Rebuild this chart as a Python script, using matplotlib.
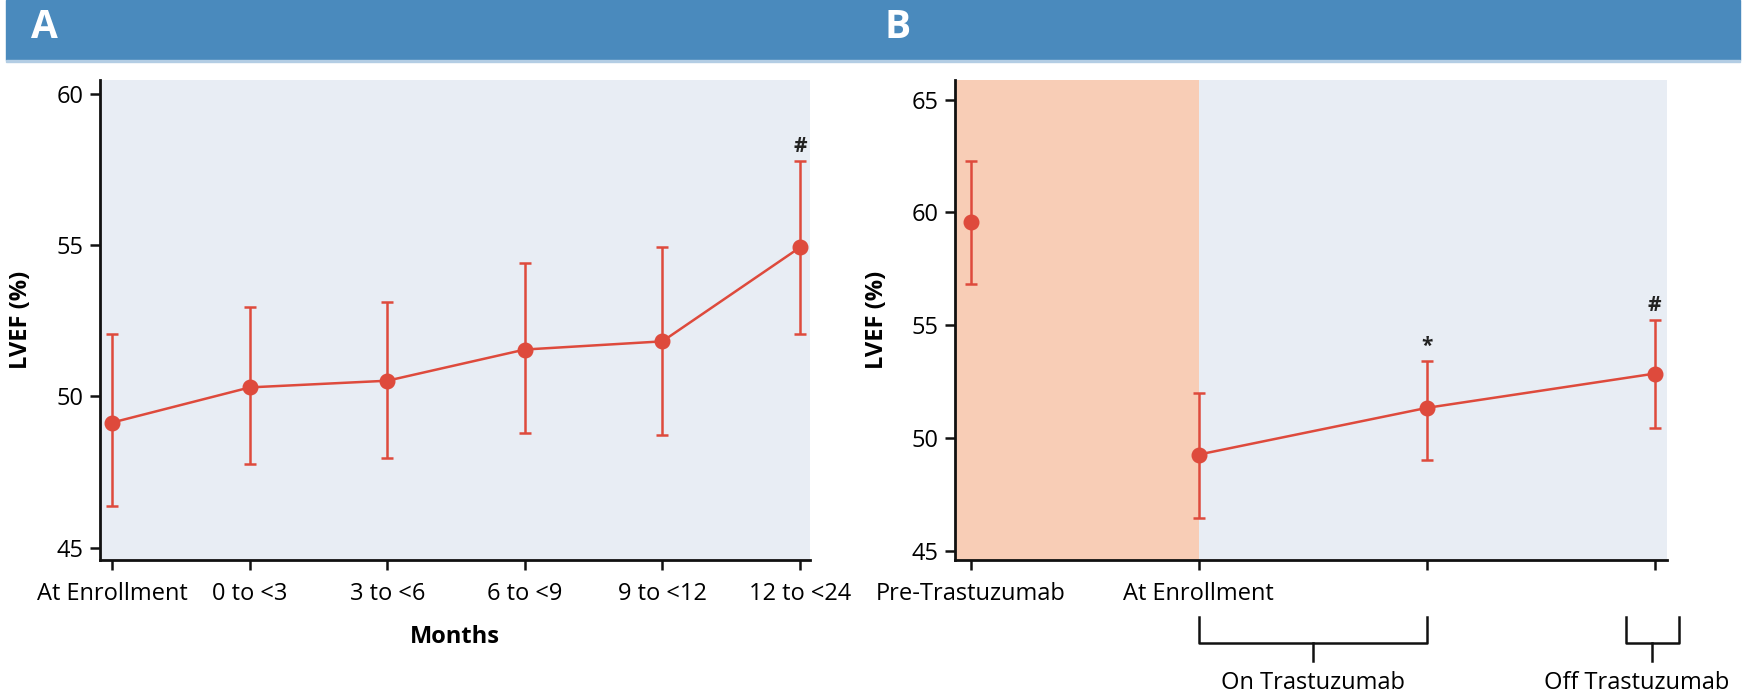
import matplotlib.pyplot as plt
from matplotlib.patches import Rectangle
from matplotlib.transforms import blended_transform_factory

plt.rcParams['font.family'] = ['Open Sans', 'DejaVu Sans']

# Panel A: LVEF by months since enrollment
periods_a = ["At Enrollment", "0 to <3", "3 to <6", "6 to <9", "9 to <12", "12 to <24"]
lvef_a = [49.14, 50.30, 50.52, 51.55, 51.82, 54.92]
upper_a = [52.05, 52.94, 53.13, 54.40, 54.92, 57.78]
lower_a = [46.38, 47.76, 47.98, 48.78, 48.73, 52.06]
marks_a = ["", "", "", "", "", "#"]

# Panel B: LVEF relative to trastuzumab
periods_b = ["Pre-Trastuzumab", "At Enrollment", "", ""]
lvef_b = [59.58, 49.27, 51.34, 52.86]
upper_b = [62.30, 52.00, 53.43, 55.22]
lower_b = [56.85, 46.47, 49.03, 50.47]
marks_b = ["", "", "*", "#"]

RED = '#de4a3c'
BG = '#e8edf4'
W, H = 1746, 697

fig = plt.figure(figsize=(W / 100, H / 100), dpi=100)


def fy(px):
    return 1 - px / H


# blue header bar
fig.patches.append(Rectangle((6 / W, fy(60)), (1740 - 6) / W, 60 / H,
                             transform=fig.transFigure, color='#4a8abd', zorder=0))
fig.patches.append(Rectangle((6 / W, fy(62)), (1740 - 6) / W, 2 / H,
                             transform=fig.transFigure, color='#b3cde4', zorder=0))
fig.text(31 / W, fy(28), "A", color='white', fontsize=28, weight='bold', va='center')
fig.text(885 / W, fy(28), "B", color='white', fontsize=28, weight='bold', va='center')


def draw_panel(ax, labels, vals, lo, hi, marks, xlim, ylim, yticks, first=0):
    x = list(range(len(vals)))
    yerr = [[v - l for v, l in zip(vals, lo)], [h - v for v, h in zip(vals, hi)]]
    ax.errorbar(x, vals, yerr=yerr, color=RED, ecolor=RED, marker='o', ms=10.5,
                ls='none', elinewidth=1.8, capsize=4.5, capthick=1.8, zorder=3)
    # connecting line (skips points before `first`)
    ax.plot(x[first:], vals[first:], color=RED, lw=1.8, zorder=3)
    for xi, h, m in zip(x, hi, marks):
        if m:
            ax.annotate(m, (xi, h), xytext=(0, 3), textcoords='offset points',
                        ha='center', va='bottom', fontsize=15, weight='bold', color='#222222')
    ax.set_facecolor(BG)
    ax.set_xlim(*xlim)
    ax.set_ylim(*ylim)
    ax.set_yticks(yticks)
    ax.set_xticks(x)
    ax.set_xticklabels(labels)
    for s in ['top', 'right']:
        ax.spines[s].set_visible(False)
    for s in ['left', 'bottom']:
        ax.spines[s].set_linewidth(2)
        ax.spines[s].set_color('#111111')
    ax.tick_params(axis='both', length=7, width=1.8, color='#111111', labelsize=17)
    ax.tick_params(axis='x', pad=9)
    ax.tick_params(axis='y', pad=5)
    ax.set_ylabel("LVEF (%)", fontsize=17, weight='bold')


ax_a = fig.add_axes([100 / W, fy(560), (809.5 - 100) / W, (560 - 80) / H])
draw_panel(ax_a, periods_a, lvef_a, lower_a, upper_a, marks_a,
           (-0.09, 5.07), (44.6, 60.45), [45, 50, 55, 60])
ax_a.yaxis.set_label_coords(-0.094, 0.5)
fig.text((100 + 809.5) / 2 / W, fy(637), "Months", ha='center', va='center',
         fontsize=17, weight='bold')

ax_b = fig.add_axes([955 / W, fy(560), (1667 - 955) / W, (560 - 80) / H])
ax_b.axvspan(-0.068, 1.0, color='#f8cdb6', lw=0, zorder=0)
draw_panel(ax_b, periods_b, lvef_b, lower_b, upper_b, marks_b,
           (-0.068, 3.054), (44.6, 65.87), [45, 50, 55, 60, 65], first=1)
ax_b.yaxis.set_label_coords(-0.092, 0.5)

# brackets under panel B
tr = blended_transform_factory(ax_b.transData, fig.transFigure)
for x0, x1, xm, xt, label in [(1, 2, 1.5, 1.5, "On Trastuzumab"),
                              (2.875, 3.105, 2.99, 2.923, "Off Trastuzumab")]:
    ax_b.plot([x0, x0, x1, x1], [fy(617), fy(643), fy(643), fy(617)], color='#111111',
              lw=1.8, transform=tr, clip_on=False)
    ax_b.plot([xm, xm], [fy(643), fy(661)], color='#111111', lw=1.8,
              transform=tr, clip_on=False)
    ax_b.text(xt, fy(683), label, ha='center', va='center', fontsize=17, transform=tr)

fig.savefig("out.png", dpi=100)
